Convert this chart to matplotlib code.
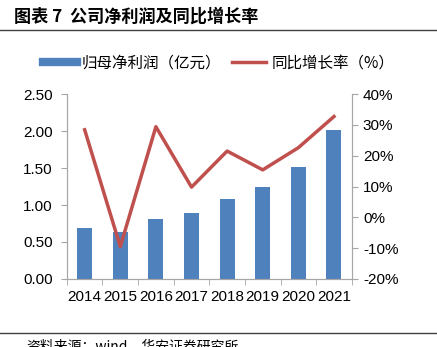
import numpy as np
import matplotlib
matplotlib.use('Agg')
import matplotlib.pyplot as plt
from matplotlib.ticker import FuncFormatter
from matplotlib.lines import Line2D

plt.rcParams['font.family'] = ['Liberation Sans', 'Noto Sans CJK SC', 'DejaVu Sans']

# data
years = ['2014', '2015', '2016', '2017', '2018', '2019', '2020', '2021']
profit = [0.69, 0.63, 0.81, 0.89, 1.08, 1.24, 1.52, 2.01]
growth = [28.4, -9.5, 29.4, 9.8, 21.5, 15.4, 22.6, 32.7]

bar_color = '#4F81BD'
line_color = '#C0504D'
spine_color = '#A6A6A6'

fig = plt.figure(figsize=(4.37, 3.47), dpi=100)
ax = fig.add_axes([0.153, 0.196, 0.652, 0.533])
ax2 = ax.twinx()

x = np.arange(len(years))
ax.bar(x, profit, width=0.42, color=bar_color, zorder=2)
ax2.plot(x, growth, color=line_color, lw=2.5, zorder=3)

ax.set_xlim(-0.5, len(years) - 0.5)
ax.set_ylim(0, 2.5)
ax.set_yticks(np.arange(0, 2.51, 0.5))
ax.yaxis.set_major_formatter(FuncFormatter(lambda v, p: f'{v:.2f}'))
ax2.set_ylim(-20, 40)
ax2.set_yticks(np.arange(-20, 41, 10))
ax2.yaxis.set_major_formatter(FuncFormatter(lambda v, p: f'{v:.0f}%'))

ax.set_xticks(x)
ax.set_xticklabels(years)
ax.set_xticks(np.arange(-0.5, len(years), 1), minor=True)
ax.tick_params(axis='x', which='major', length=0, labelsize=11, pad=8)
ax.tick_params(axis='x', which='minor', length=4, color=spine_color)
ax.tick_params(axis='y', length=4, color=spine_color, labelsize=11, pad=6)
ax2.tick_params(axis='y', length=4, color=spine_color, labelsize=11, pad=4)

for a in (ax, ax2):
    a.spines['top'].set_visible(False)
    for s in ('left', 'right', 'bottom'):
        a.spines[s].set_color(spine_color)
ax2.set_zorder(ax.get_zorder() + 1)
ax2.patch.set_visible(False)

# legend
handles = [Line2D([0], [0], color=bar_color, lw=6),
           Line2D([0], [0], color=line_color, lw=2.5)]
fig.legend(handles, ['归母净利润（亿元）', '同比增长率（%）'],
           loc='center', bbox_to_anchor=(0.5, 0.818), ncol=2, frameon=False,
           handlelength=2.2, columnspacing=0.7, handletextpad=0.3,
           prop={'family': ['Noto Sans CJK SC'], 'size': 11.2})

# header and footer
fig.text(0.033, 0.952, '图表 7  公司净利润及同比增长率', fontsize=12.3, fontweight='bold',
         family=['Noto Sans CJK SC'], va='center', ha='left')
fig.add_artist(Line2D([0, 1], [0.913, 0.913], color='#404040', lw=1))
fig.add_artist(Line2D([0, 1], [0.040, 0.040], color='#404040', lw=1))
fig.text(0.06, 0.003, '资料来源：wind，华安证券研究所', fontsize=10,
         family=['Noto Sans CJK SC'], va='center', ha='left')

fig.savefig('out.png', dpi=100)
